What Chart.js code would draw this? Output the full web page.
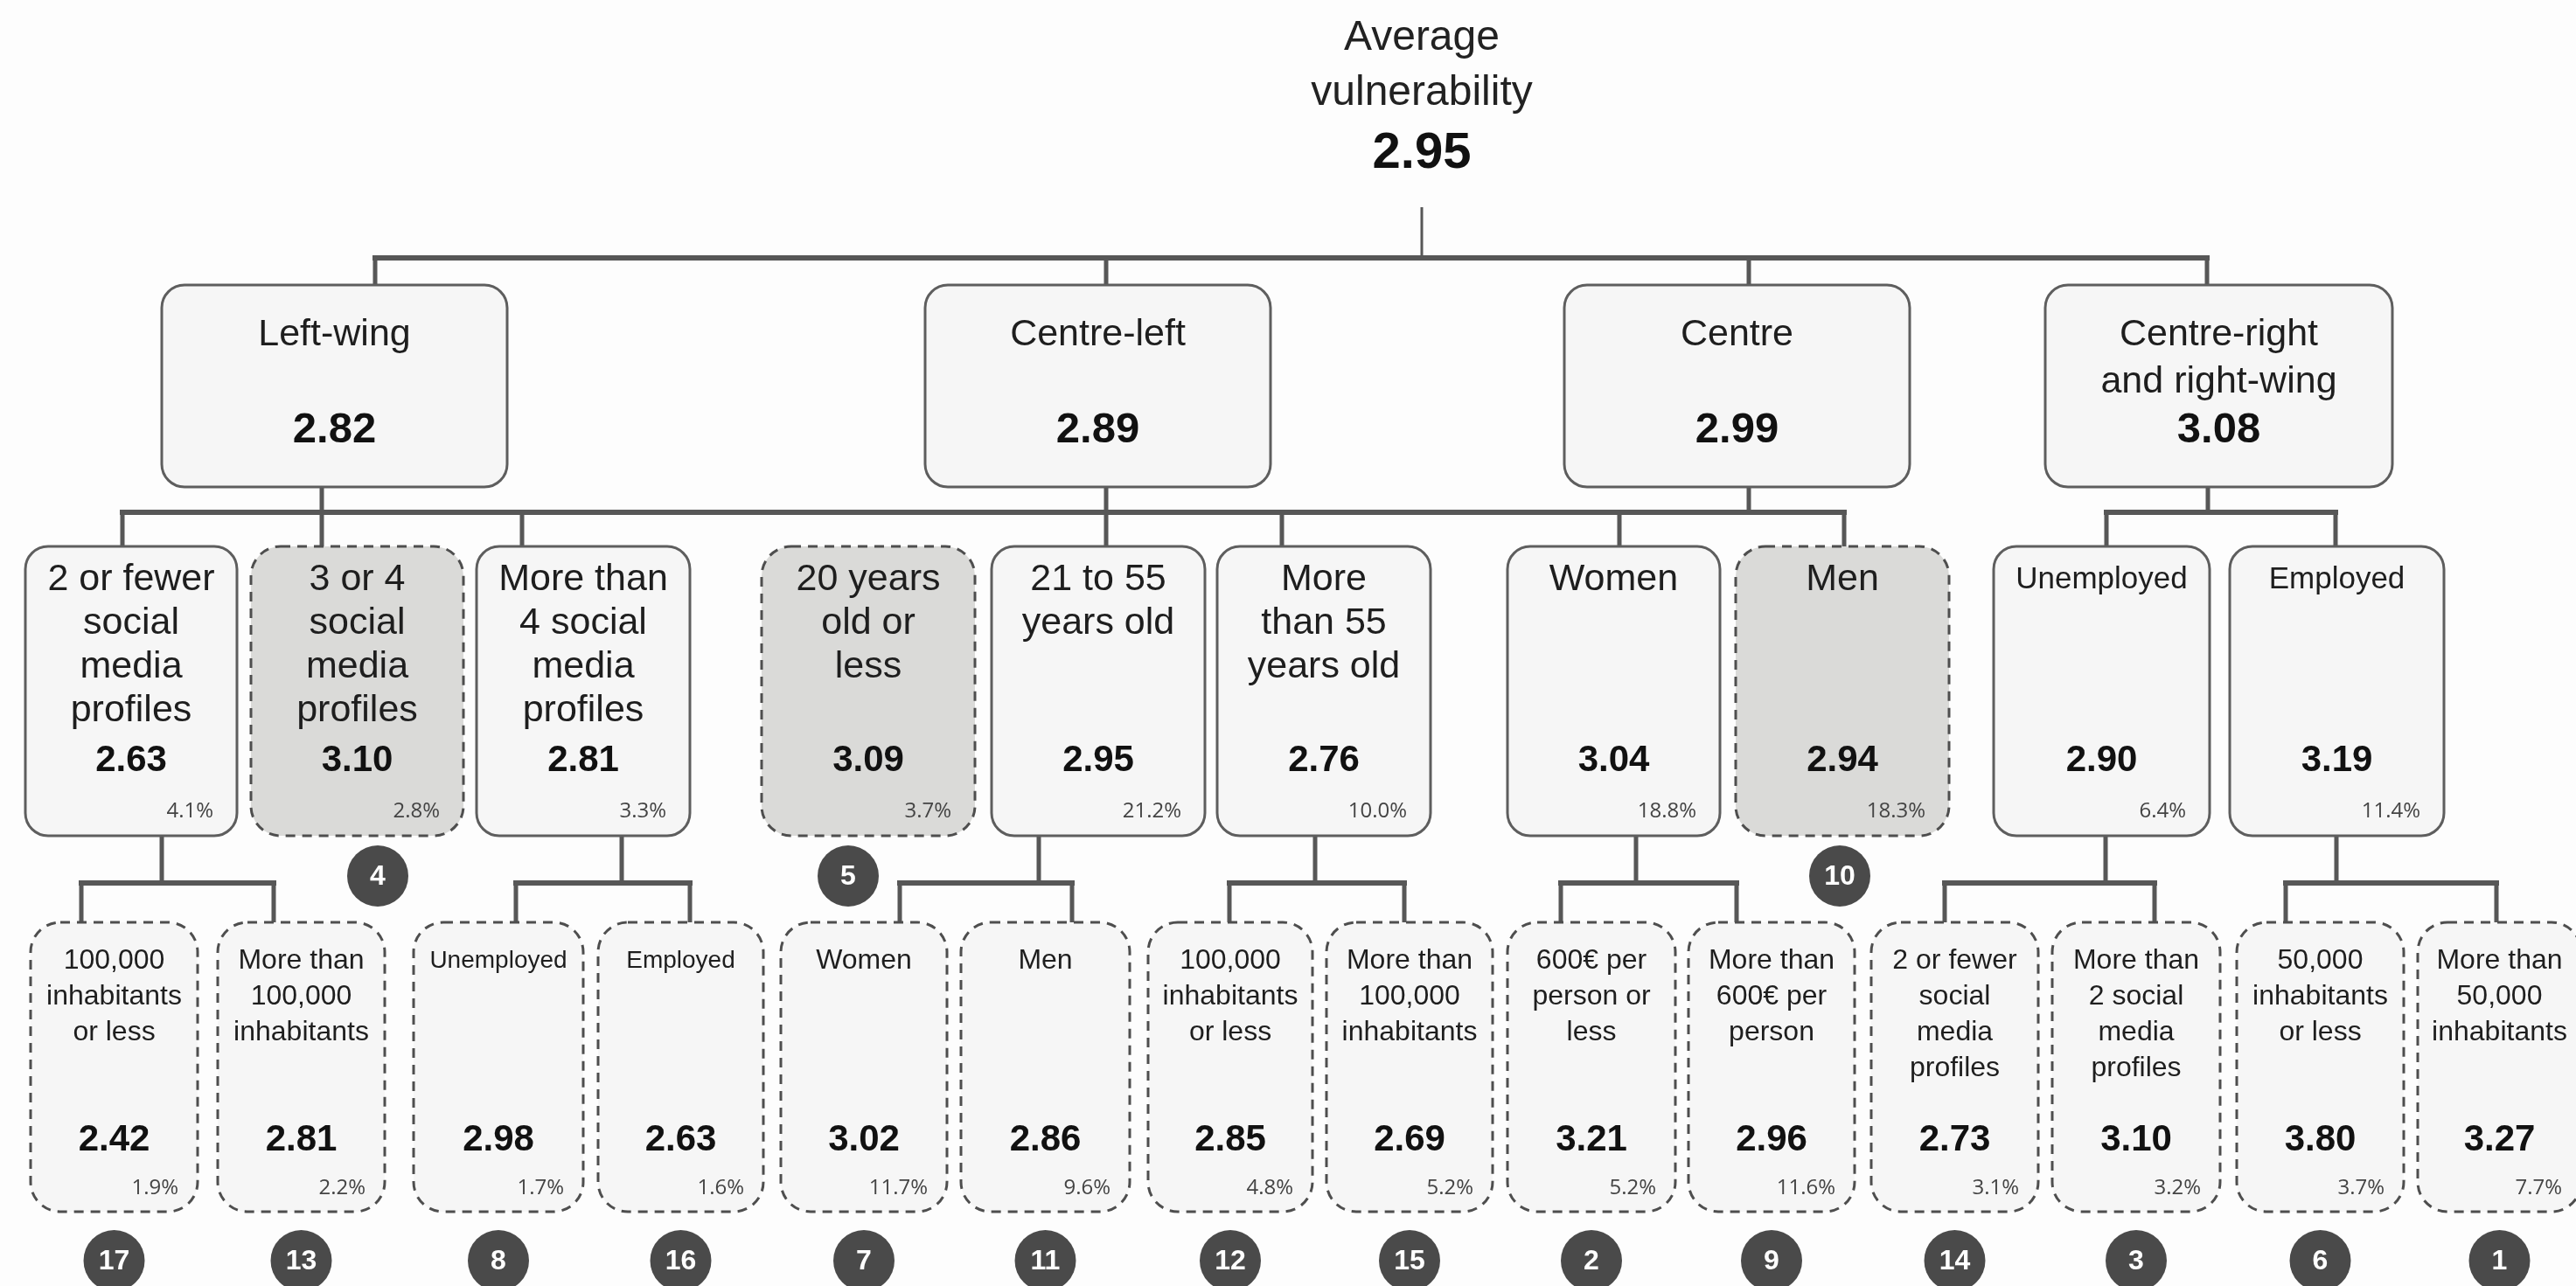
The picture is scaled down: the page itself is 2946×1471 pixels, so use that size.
<!DOCTYPE html>
<html>
<head>
<meta charset="utf-8">
<script src="https://cdn.jsdelivr.net/npm/chart.js@4.4.1/dist/chart.umd.min.js"></script>
<style>
html, body { margin: 0; padding: 0; background: #fdfdfd; }
#wrap { width: 2946px; height: 1471px; }
</style>
</head>
<body>
<div id="wrap"><canvas id="tree" width="2946" height="1471"></canvas></div>
<script>
// root of the tree
const rootLabel = ['Average', 'vulnerability'];
const rootValue = 2.95;

// first split: ideology
const ideologyLabels = ['Left-wing', 'Centre-left', 'Centre', 'Centre-right\nand right-wing'];
const ideologyValues = [2.82, 2.89, 2.99, 3.08];

// second split
const groupLabels = ['2 or fewer\nsocial\nmedia\nprofiles', '3 or 4\nsocial\nmedia\nprofiles', 'More than\n4 social\nmedia\nprofiles',
  '20 years\nold or\nless', '21 to 55\nyears old', 'More\nthan 55\nyears old', 'Women', 'Men', 'Unemployed', 'Employed'];
const groupValues = [2.63, 3.10, 2.81, 3.09, 2.95, 2.76, 3.04, 2.94, 2.90, 3.19];
const groupShares = ['4.1%', '2.8%', '3.3%', '3.7%', '21.2%', '10.0%', '18.8%', '18.3%', '6.4%', '11.4%'];
const groupParents = [0, 0, 0, 1, 1, 1, 2, 2, 3, 3];
const groupTerminal = [false, true, false, true, false, false, false, true, false, false];
const groupRanks = [null, 4, null, 5, null, null, null, 10, null, null];

// third split
const subLabels = ['100,000\ninhabitants\nor less', 'More than\n100,000\ninhabitants', 'Unemployed', 'Employed', 'Women', 'Men',
  '100,000\ninhabitants\nor less', 'More than\n100,000\ninhabitants', '600€ per\nperson or\nless', 'More than\n600€ per\nperson',
  '2 or fewer\nsocial\nmedia\nprofiles', 'More than\n2 social\nmedia\nprofiles', '50,000\ninhabitants\nor less', 'More than\n50,000\ninhabitants'];
const subValues = [2.42, 2.81, 2.98, 2.63, 3.02, 2.86, 2.85, 2.69, 3.21, 2.96, 2.73, 3.10, 3.80, 3.27];
const subShares = ['1.9%', '2.2%', '1.7%', '1.6%', '11.7%', '9.6%', '4.8%', '5.2%', '5.2%', '11.6%', '3.1%', '3.2%', '3.7%', '7.7%'];
const subParents = [0, 0, 2, 2, 4, 4, 5, 5, 6, 6, 8, 8, 9, 9];
const subRanks = [17, 13, 8, 16, 7, 11, 12, 15, 2, 9, 14, 3, 6, 1];

// layout in the units of the hidden x / y scales
const layout = {
  rootX: 1626, rootLineY: [44, 107], rootValueY: 176, stemTop: 237,
  bars: [295, 586, 1010],
  rows: [{ top: 326, bottom: 557 }, { top: 625, bottom: 956 }, { top: 1055, bottom: 1386 }],
  badgeY: [1002, 1442],
  ideologyBoxes: [[185, 580], [1058, 1453], [1789, 2184], [2339, 2736]],
  ideologyIn: [429, 1265, 2000, 2524],
  ideologyOut: [368, 1265, 2000, 2525],
  groupBarSets: [[0, 1, 2], [3]],
  groupBoxes: [[29, 271], [287, 530], [545, 789], [871, 1115], [1134, 1378], [1392, 1636], [1724, 1967], [1985, 2229], [2280, 2527], [2550, 2795]],
  groupIn: [140, 368, 597, null, 1265, 1466, 1852, 2109, 2409, 2671],
  groupOut: [185, null, 711, null, 1188, 1504, 1871, null, 2408, 2672],
  groupBadgeX: [null, 432, null, 970, null, null, null, 2104, null, null],
  subBoxes: [[35, 226], [249, 440], [473, 667], [684, 873], [893, 1083], [1099, 1292], [1313, 1501], [1517, 1707],
    [1724, 1916], [1931, 2121], [2140, 2331], [2347, 2539], [2558, 2749], [2765, 2952]],
  subIn: [93, 313, 590, 789, 1029, 1226, 1406, 1606, 1785, 1986, 2224, 2464, 2614, 2855]
};

const FONT = '"Liberation Sans", Arial, sans-serif';
const PCT_FONT = '"Open Sans", "DejaVu Sans", sans-serif';
const LINE = '#575757';
const compactWords = ['Unemployed', 'Employed'];

// text settings for each level of boxes
const levelStyle = [
  { size: 43, compact: 43, first: 57, gap: 54, valueSize: 49, valueY: 166 },
  { size: 43, compact: 35, first: 38, gap: 50, valueSize: 42, valueY: 245, pctY: 303, pctInset: 27 },
  { size: 32, compact: 28, first: 44, gap: 41, valueSize: 42, valueY: 249, pctY: 304, pctInset: 22 }
];

const nodes = [];
ideologyLabels.forEach((lab, i) => nodes.push({ level: 0, lines: lab.split('\n'), value: ideologyValues[i], box: layout.ideologyBoxes[i] }));
groupLabels.forEach((lab, i) => nodes.push({ level: 1, lines: lab.split('\n'), value: groupValues[i], share: groupShares[i],
  box: layout.groupBoxes[i], dashed: groupTerminal[i], shaded: groupTerminal[i] }));
subLabels.forEach((lab, i) => nodes.push({ level: 2, lines: lab.split('\n'), value: subValues[i], share: subShares[i],
  box: layout.subBoxes[i], dashed: true, shaded: false }));

// connectors, as line segments split by empty points
const rootPts = [], barPts = [], stemPts = [];
function seg(arr, x0, y0, x1, y1) {
  arr.push({ x: x0, y: y0 }, { x: x1, y: y1 }, { x: null, y: null });
}
const bars = layout.bars, rows = layout.rows;
seg(rootPts, layout.rootX, layout.stemTop, layout.rootX, bars[0]);
seg(barPts, Math.min(...layout.ideologyIn), bars[0], Math.max(...layout.ideologyIn), bars[0]);
layout.ideologyIn.forEach(x => seg(stemPts, x, bars[0], x, rows[0].top));
layout.ideologyOut.forEach(x => seg(stemPts, x, rows[0].bottom, x, bars[1]));
layout.groupBarSets.forEach(set => {
  let xs = set.map(p => layout.ideologyOut[p]);
  groupParents.forEach((p, i) => { if (set.includes(p) && layout.groupIn[i] != null) xs.push(layout.groupIn[i]); });
  seg(barPts, Math.min(...xs), bars[1], Math.max(...xs), bars[1]);
});
layout.groupIn.forEach(x => { if (x != null) seg(stemPts, x, bars[1], x, rows[1].top); });
layout.groupOut.forEach((x, g) => {
  if (x == null) return;
  seg(stemPts, x, rows[1].bottom, x, bars[2]);
  let kids = [];
  subParents.forEach((p, i) => { if (p === g) kids.push(layout.subIn[i]); });
  seg(barPts, Math.min(x, ...kids), bars[2], Math.max(x, ...kids), bars[2]);
  kids.forEach(k => seg(stemPts, k, bars[2], k, rows[2].top));
});

// rank badges
const badgePts = [];
groupRanks.forEach((r, i) => {
  if (!r) return;
  let b = layout.groupBoxes[i];
  badgePts.push({ x: layout.groupBadgeX[i] != null ? layout.groupBadgeX[i] : (b[0] + b[1]) / 2, y: layout.badgeY[0], rank: r });
});
subRanks.forEach((r, i) => {
  let b = layout.subBoxes[i];
  badgePts.push({ x: (b[0] + b[1]) / 2, y: layout.badgeY[1], rank: r });
});

function roundedBox(ctx, x0, y0, x1, y1, r) {
  ctx.beginPath();
  ctx.moveTo(x0 + r, y0);
  ctx.lineTo(x1 - r, y0);
  ctx.arcTo(x1, y0, x1, y0 + r, r);
  ctx.lineTo(x1, y1 - r);
  ctx.arcTo(x1, y1, x1 - r, y1, r);
  ctx.lineTo(x0 + r, y1);
  ctx.arcTo(x0, y1, x0, y1 - r, r);
  ctx.lineTo(x0, y0 + r);
  ctx.arcTo(x0, y0, x0 + r, y0, r);
  ctx.closePath();
}

function text(ctx, str, x, y, font, color, align) {
  ctx.font = font;
  ctx.fillStyle = color;
  ctx.textAlign = align || 'center';
  ctx.textBaseline = 'middle';
  ctx.fillText(str, x, y);
}

const background = {
  id: 'background',
  beforeDraw(chart) {
    const c = chart.ctx;
    c.save();
    c.fillStyle = '#fdfdfd';
    c.fillRect(0, 0, chart.width, chart.height);
    c.restore();
  }
};

const treeBoxes = {
  id: 'treeBoxes',
  afterDatasetsDraw(chart) {
    const c = chart.ctx, sx = chart.scales.x, sy = chart.scales.y;
    const X = v => sx.getPixelForValue(v), Y = v => sy.getPixelForValue(v);
    c.save();

    // root title
    const cx = X(layout.rootX);
    text(c, rootLabel[0], cx, Y(layout.rootLineY[0]), '48px ' + FONT, '#222');
    text(c, rootLabel[1], cx, Y(layout.rootLineY[1]), '48px ' + FONT, '#222');
    text(c, rootValue.toFixed(2), cx, Y(layout.rootValueY), 'bold 58px ' + FONT, '#111');

    nodes.forEach(n => {
      const st = levelStyle[n.level], row = rows[n.level];
      const x0 = X(n.box[0]), x1 = X(n.box[1]), y0 = Y(row.top), y1 = Y(row.bottom);
      roundedBox(c, x0, y0, x1, y1, n.dashed ? 34 : 26);
      c.fillStyle = n.shaded ? '#dadad8' : '#f6f6f6';
      c.fill();
      c.lineWidth = 3;
      c.strokeStyle = n.dashed ? '#4e4e4e' : '#5e5e5e';
      c.setLineDash(n.dashed ? [11, 8] : []);
      c.stroke();
      c.setLineDash([]);

      const mid = (x0 + x1) / 2;
      const compact = n.lines.length === 1 && compactWords.includes(n.lines[0]);
      const size = compact ? st.compact : st.size;
      n.lines.forEach((ln, k) => {
        text(c, ln, mid, Y(row.top + st.first + k * st.gap), size + 'px ' + FONT, '#1e1e1e');
      });
      text(c, n.value.toFixed(2), mid, Y(row.top + st.valueY), 'bold ' + st.valueSize + 'px ' + FONT, '#111');
      if (n.share) {
        text(c, n.share, x1 - st.pctInset, Y(row.top + st.pctY), '24px ' + PCT_FONT, '#444', 'right');
      }
    });

    // numbers inside the rank badges
    const meta = chart.getDatasetMeta(0);
    meta.data.forEach((pt, i) => {
      text(c, String(badgePts[i].rank), pt.x, pt.y + 1, 'bold 32px ' + FONT, '#ffffff');
    });
    c.restore();
  }
};

new Chart(document.getElementById('tree'), {
  type: 'scatter',
  data: {
    datasets: [
      { data: badgePts, pointRadius: 35, pointHoverRadius: 35, backgroundColor: '#4a4a4a', borderWidth: 0, clip: false },
      { data: rootPts, showLine: true, borderColor: LINE, borderWidth: 3, pointRadius: 0, spanGaps: false },
      { data: barPts, showLine: true, borderColor: LINE, borderWidth: 6, pointRadius: 0, borderCapStyle: 'square', spanGaps: false },
      { data: stemPts, showLine: true, borderColor: LINE, borderWidth: 5, pointRadius: 0, borderCapStyle: 'square', spanGaps: false }
    ]
  },
  options: {
    responsive: false,
    animation: false,
    events: [],
    layout: { padding: 0, autoPadding: false },
    scales: {
      x: { type: 'linear', min: 0, max: 2946, display: false },
      y: { type: 'linear', min: 0, max: 1471, reverse: true, display: false }
    },
    plugins: { legend: { display: false }, tooltip: { enabled: false } }
  },
  plugins: [background, treeBoxes]
});
</script>
</body>
</html>
